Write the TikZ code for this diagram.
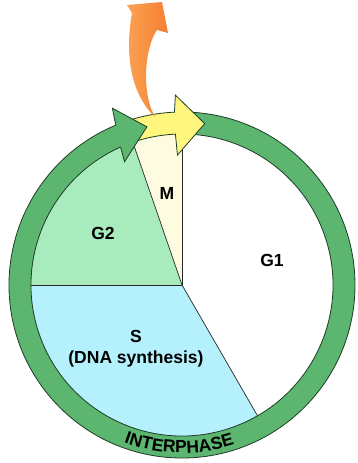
\documentclass[tikz,border=0pt]{standalone}
\usepackage{fontspec}
\setmainfont{Liberation Sans}
\usetikzlibrary{decorations.text}

\definecolor{ringgreen}{RGB}{92,182,112}
\definecolor{ringedge}{RGB}{30,60,38}
\definecolor{gtwofill}{RGB}{168,236,190}
\definecolor{sfill}{RGB}{180,241,252}
\definecolor{mfill}{RGB}{253,251,224}
\definecolor{arrowyellow}{RGB}{255,246,125}
\definecolor{orangelight}{RGB}{251,165,85}
\definecolor{orangedark}{RGB}{245,128,50}

\newcommand{\phasefont}{\fontsize{17.5}{21}\selectfont\bfseries}

\begin{document}
\begin{tikzpicture}[x=1pt, y=1pt,
    divider/.style={draw=black!85, line width=0.7pt},
    ringpart/.style={fill=ringgreen, draw=ringedge, line width=0.8pt},
    passarrow/.style={fill=arrowyellow, draw=ringedge, line width=0.8pt},
    phase/.style={font=\phasefont, align=center}
  ]
  \useasboundingbox (-182,-178) rectangle (175,285);

  % Phase sectors
  \foreach \from/\to/\col in {90/-60/white, -60/-180/sfill, 180/109/gtwofill, 109/90/mfill} {
    \fill[\col] (0,0) -- (\from:151) arc[start angle=\from, end angle=\to, radius=151] -- cycle;
  }
  \foreach \a in {90, 109, 180, -60} { \draw[divider] (0,0) -- (\a:152); }

  % Interphase ring
  \draw[ringpart] (88:173) arc[start angle=88, end angle=-249, radius=173]
    -- (-249:151) arc[start angle=-249, end angle=88, radius=151] -- cycle;

  % M arrow over the top
  \draw[passarrow] (109.5:173) arc[start angle=109.5, end angle=92.5, radius=173]
    -- (92:190) -- (82:163) -- (92:130) -- (92.5:151)
    arc[start angle=92.5, end angle=109.5, radius=151] -- cycle;

  % ring arrowhead
  \filldraw[ringpart] (112.5:173) -- (111.5:190) -- (102.5:162) -- (115:136) -- (114:151);

  % exit arrow
  \shade[left color=orangelight, right color=orangedark]
    (-27,168) .. controls (-43,183) and (-60,215) .. (-50,272)
    -- (-55,280) -- (-20,283) -- (-14,252) -- (-25,255)
    .. controls (-36,240) and (-42,195) .. (-27,168) -- cycle;

  % Labels
  \node[phase] (m) at (-15,92) {M};
  \node[phase] (gtwo) at (-79,52) {G2};
  \node[phase] (gone) at (90,25) {G1};
  \node[phase] (s) at (-46,-64) {S\\(DNA synthesis)};

  \path[decorate, decoration={text along path, text align=center,
      text={|\phasefont|INTERPHASE}}]
    (239:168) arc[start angle=239, end angle=299, radius=168];

\end{tikzpicture}
\end{document}
